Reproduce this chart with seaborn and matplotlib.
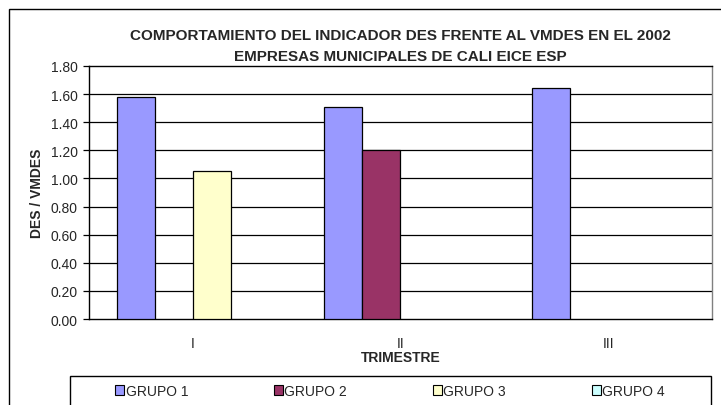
import numpy as np
import pandas as pd
import matplotlib
matplotlib.use("Agg")
import matplotlib.pyplot as plt
from matplotlib.patches import Patch, Rectangle
import seaborn as sns

trimestres = ["I", "II", "III"]
grupos = ["GRUPO 1", "GRUPO 2", "GRUPO 3", "GRUPO 4"]
grupo1 = [1.58, 1.51, 1.64]
grupo2 = [np.nan, 1.20, np.nan]
grupo3 = [1.05, np.nan, np.nan]
grupo4 = [np.nan, np.nan, np.nan]
colores = ["#9999FF", "#993366", "#FFFFCC", "#CCFFFF"]
yticks = [0.0, 0.2, 0.4, 0.6, 0.8, 1.0, 1.2, 1.4, 1.6, 1.8]

rows = []
for g, vals in zip(grupos, [grupo1, grupo2, grupo3, grupo4]):
    for t, v in zip(trimestres, vals):
        rows.append({"TRIMESTRE": t, "GRUPO": g, "VALOR": v})
df = pd.DataFrame(rows).dropna()

sns.set_style("white")
plt.rcParams['font.family'] = ['Liberation Sans', 'DejaVu Sans']

W, H = 721, 406
fig = plt.figure(figsize=(W / 100, H / 100), dpi=100)
ax = fig.add_axes([89 / W, 1 - 320 / H, (712 - 89) / W, (320 - 67) / H])

palette = dict(zip(grupos, colores))
sns.barplot(data=df, x="TRIMESTRE", y="VALOR", hue="GRUPO", order=trimestres,
            hue_order=grupos, palette=palette, width=0.735, errorbar=None,
            edgecolor="black", linewidth=0.9, saturation=1, ax=ax, legend=False,
            zorder=3)

ax.set_xlim(-0.5, 2.5)
ax.set_ylim(0, 1.8)
ax.set_yticks(yticks)
ax.set_yticklabels([f"{v:.2f}" for v in yticks], fontsize=10)
for y in yticks[1:-1]:
    ax.axhline(y, color="black", linewidth=0.9, zorder=1)

ax.set_xticks([0, 1, 2])
ax.set_xticklabels(trimestres, fontsize=10)
ax.tick_params(axis="x", which="major", length=0, pad=12)
ax.set_xticks([0.5, 1.5, 2.5], minor=True)
ax.tick_params(axis="x", which="minor", length=4, width=0.9, color="black", direction="out")
ax.tick_params(axis="y", length=4, width=0.9, color="black", direction="out", pad=4, left=True)

for s in ["left", "bottom", "top"]:
    ax.spines[s].set_color("black")
    ax.spines[s].set_linewidth(1.0)
ax.spines["right"].set_color("#808080")
ax.spines["right"].set_linewidth(1.0)

ax.set_xlabel("TRIMESTRE", fontsize=10, fontweight="bold", labelpad=0)
ax.set_ylabel("DES / VMDES", fontsize=10, fontweight="bold", labelpad=5)

fig.text(400 / W, 1 - 36 / H, "COMPORTAMIENTO DEL INDICADOR DES FRENTE AL VMDES EN EL 2002",
         ha="center", va="center", fontsize=11, fontweight="bold")
fig.text(400 / W, 1 - 57 / H, "EMPRESAS MUNICIPALES DE CALI EICE ESP",
         ha="center", va="center", fontsize=11, fontweight="bold")

# outer chart frame
frame = Rectangle((9 / W, -0.1), 2, 1 - 10 / H + 0.1, transform=fig.transFigure,
                  fill=False, edgecolor="black", linewidth=1.0)
fig.patches.append(frame)

# legend box
box = Rectangle((70 / W, -0.1), (711 - 70) / W, 1 - 377 / H + 0.1, transform=fig.transFigure,
                fill=False, edgecolor="black", linewidth=1.0)
fig.patches.append(box)
handles = [Patch(facecolor=c, edgecolor="black", linewidth=0.8) for c in colores]
fig.legend(handles, grupos, loc="center", bbox_to_anchor=(390 / W, 1 - 392 / H),
           ncol=4, frameon=False, fontsize=10, handlelength=0.65, handleheight=0.8,
           handletextpad=0.1, columnspacing=6.17)

fig.savefig("out.png", dpi=100)
